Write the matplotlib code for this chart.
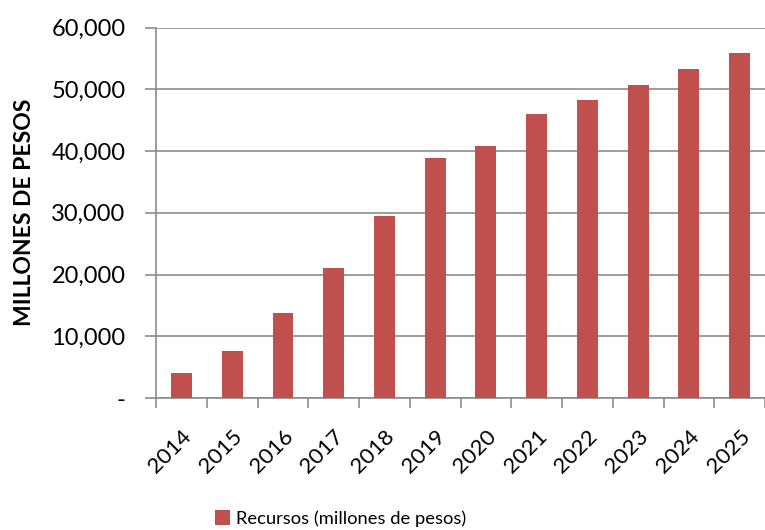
import matplotlib.pyplot as plt
import matplotlib as mpl
import numpy as np

years = ['2014', '2015', '2016', '2017', '2018', '2019',
         '2020', '2021', '2022', '2023', '2024', '2025']
recursos = [4100, 7610, 13820, 21100, 29420, 38810,
            40810, 45990, 48310, 50690, 53280, 55920]
y_ticks = [0, 10000, 20000, 30000, 40000, 50000, 60000]
y_tick_labels = ['-', '10,000', '20,000', '30,000', '40,000', '50,000', '60,000']

mpl.rcParams.update({
    'font.family': ['Lato', 'DejaVu Sans'],
    'font.size': 13,
})

bar_color = '#C0504D'
grid_color = '#8C8C8C'

fig = plt.figure(figsize=(7.65, 5.3), dpi=100)
ax = fig.add_axes([0.204, 0.249, 0.796, 0.699])

x = np.arange(len(years))
ax.bar(x, recursos, width=0.41, color=bar_color, zorder=3,
       label='Recursos (millones de pesos)')

ax.set_xlim(-0.5, len(years) - 0.5)
ax.set_ylim(0, 60000)
ax.set_yticks(y_ticks)
ax.set_yticklabels(y_tick_labels, fontsize=17)
ax.yaxis.grid(True, color=grid_color, linewidth=1.2, zorder=0)

ax.set_xticks(x)
ax.set_xticklabels(years, rotation=45, ha='right', rotation_mode='anchor', fontsize=16)
ax.set_xticks(np.arange(-0.5, len(years)), minor=True)
ax.tick_params(axis='x', which='major', length=0, pad=20)
ax.tick_params(axis='x', which='minor', length=7, color=grid_color, width=1.2)
ax.tick_params(axis='y', length=8, color=grid_color, width=1.2, pad=14)

for side in ['top', 'right']:
    ax.spines[side].set_visible(False)
for side in ['left', 'bottom']:
    ax.spines[side].set_color(grid_color)
    ax.spines[side].set_linewidth(1.2)

ax.set_ylabel('MILLONES DE PESOS', fontweight='bold', fontsize=16.5, labelpad=12)

fig.legend(loc='lower center', bbox_to_anchor=(0.445, -0.025), frameon=False,
           handlelength=0.85, handleheight=0.85, handletextpad=0.3, fontsize=13.2)

fig.savefig('out.png', dpi=100)
